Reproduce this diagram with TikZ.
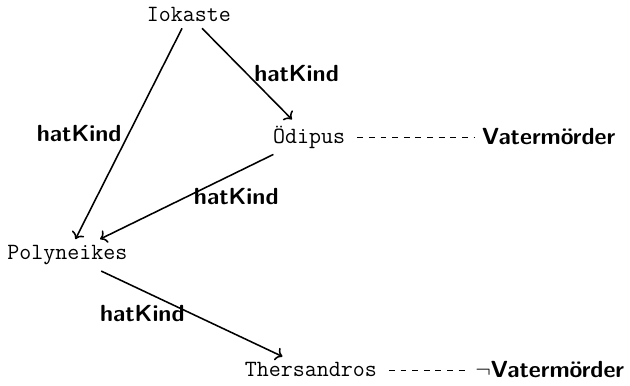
\documentclass[tikz,border=0pt]{standalone}
\usepackage{amsmath}
\usepackage{amssymb}
\usepackage{tikz}
\usetikzlibrary{arrows.meta, positioning}

\begin{document}
\begin{tikzpicture}[
  person/.style={font=\large\ttfamily, inner sep=3pt},
  prop/.style={font=\large\sffamily\bfseries, inner sep=2pt},
  rel/.style={font=\large\sffamily\bfseries},
  arrow/.style={->, thick},
  attr/.style={dashed, shorten <=3pt, shorten >=2pt}
]
\useasboundingbox (0,0) rectangle (11.41,6.99);

% Nodes
\node[person] (I) at (3.42, 6.72) {Iokaste};
\node[person] (O) at (5.6, 4.51) {Ödipus};
\node[person] (P) at (1.22, 2.37) {Polyneikes};
\node[person] (T) at (5.63, 0.29) {Thersandros};
\node[prop, anchor=east] (V) at (11.22, 4.51) {Vatermörder};
\node[prop, anchor=east] (NV) at (11.38, 0.29) {$\neg$Vatermörder};

% Parent relations
\draw[arrow] (I) -- node[rel, right] {hatKind} (O);
\draw[arrow] (I) -- node[rel, left] {hatKind} (P);
\draw[arrow] (O) -- node[rel, right] {hatKind} (P);
\draw[arrow] (P) -- node[rel, left] {hatKind} (T);

% Attributes
\draw[attr] (O) -- (V);
\draw[attr] (T) -- (NV);

\end{tikzpicture}
\end{document}
